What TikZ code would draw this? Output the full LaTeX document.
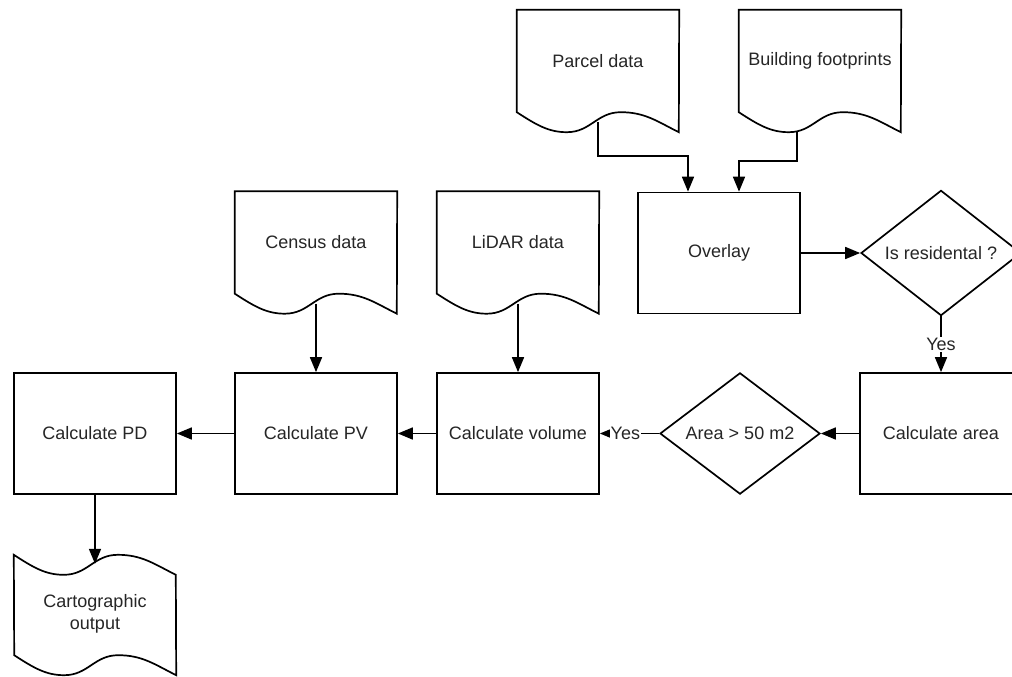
\documentclass[tikz,border=0pt]{standalone}
\usepackage{fontspec}
\setmainfont{Liberation Sans}
\usetikzlibrary{shapes.geometric}
\usetikzlibrary{arrows.meta}

\tikzset{
  procbox/.style={shape=rectangle, draw=black, line width=1.7pt, minimum width=162pt, minimum height=121pt, inner sep=0pt},
  decide/.style={shape=diamond, draw=black, line width=1.7pt, minimum width=160pt, minimum height=120pt, inner sep=0pt},
  datadoc/.style={shape=rectangle, minimum width=162pt, minimum height=102pt, inner sep=0pt,
    append after command={\pgfextra{\draw[line width=1.7pt] (\tikzlastnode.south west)
        .. controls +(20,13) and +(-18,0) .. ++(50,20)
        .. controls +(24,0) and +(-24,0) .. ++(54,-20)
        .. controls +(24,0) and +(-22,-11) .. ++(58,20)
        -- (\tikzlastnode.north east) -- (\tikzlastnode.north west) -- cycle;}}},
  outdoc/.style={shape=rectangle, minimum width=162pt, minimum height=100pt, inner sep=0pt, align=center,
    append after command={\pgfextra{\draw[line width=1.7pt] ([yshift=9pt]\tikzlastnode.north west)
        .. controls +(20,13) and +(-18,0) .. ++(50,20)
        .. controls +(24,0) and +(-24,0) .. ++(54,-20)
        .. controls +(24,0) and +(-22,-11) .. ++(58,20)
        -- ([yshift=-11pt]\tikzlastnode.south east)
        .. controls +(-22,-11) and +(24,0) .. ++(-58,-20)
        .. controls +(-24,0) and +(24,0) .. ++(-54,20)
        .. controls +(-18,0) and +(20,13) .. ++(-50,-20) -- cycle;}}},
  arr/.style={line width=1.7pt, -{Triangle[length=15pt,width=12pt]}},
}

\begin{document}
\begin{tikzpicture}[x=1pt, y=-1pt, font=\fontsize{18}{22}\selectfont, text=black!85]
        \fill[white] (0,0) rectangle (1012,677);
        \clip (0,0) rectangle (1012,677);

        % data sources
        \node (parcel) at (598,61) [datadoc] {Parcel data};
        \node (building) at (820,61) [datadoc] {Building footprints};
        \node (census) at (316,242.5) [datadoc] {Census data};
        \node (lidar) at (518,242.5) [datadoc] {LiDAR data};

        % steps
        \node (overlay) at (719,253) [procbox] {Overlay};
        \node (area) at (941,433.5) [procbox] {Calculate area};
        \node (volume) at (518,433.5) [procbox] {Calculate volume};
        \node (pv) at (316,433.5) [procbox] {Calculate PV};
        \node (pd) at (95,433.5) [procbox] {Calculate PD};

        % tests
        \node (isres) at (941,253) [decide] {Is residental ?};
        \node (size) at (740,433.5) [decide] {Area > 50 m2};

        % result
        \node (carto) at (95,614) [outdoc] {Cartographic\\output};

        % connections
        \draw[arr] ([yshift=-10pt]parcel.south) -- ++(0,34) -| ([xshift=-31pt]overlay.north);
        \draw[arr] ([xshift=-23pt,yshift=-20pt]building.south) -- ++(0,29) -| ([xshift=20pt]overlay.north);
        \draw[arr] (overlay) -- (isres);
        \draw[arr] (isres) -- node[fill=white, inner sep=1pt] {Yes} (area);
        \draw[arr] (area) -- (size);
        \draw[arr] (size) -- node[pos=0.57, fill=white, inner sep=0.5pt] {Yes} (volume);
        \draw[arr] ([yshift=-10pt]lidar.south) -- (volume);
        \draw[arr] ([yshift=-10pt]census.south) -- (pv);
        \draw[arr] (volume) -- (pv);
        \draw[arr] (pv) -- (pd);
        \draw[arr] (pd) -- (carto);
\end{tikzpicture}
\end{document}
